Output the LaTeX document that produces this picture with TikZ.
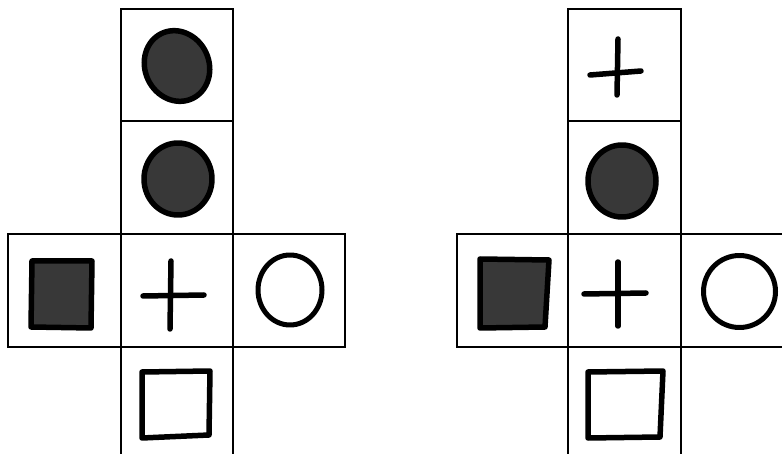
\documentclass[tikz,border=0pt]{standalone}
\begin{document}
\begin{tikzpicture}[x=1pt,y=-1pt,
  grid/.style={draw=black,line width=1.3pt},
  pen/.style={draw=black,line width=5.5pt,line cap=round,line join=round},
  blob/.style={pen,fill=black!78,line width=5.5pt}]
\useasboundingbox (0,0) rectangle (782,454);
% ---------- left net ----------
\draw[grid] (121,9) rectangle (233,121);
\draw[grid] (121,121) -- (121,234);
\draw[grid] (233,121) -- (233,234);
\draw[grid] (8,234) rectangle (345,347);
\draw[grid] (121,234) -- (121,454);
\draw[grid] (233,234) -- (233,454);
% symbols
\draw[blob,rotate around={25:(177,66)}] (177,66) ellipse (32 and 36);
\draw[blob] (178,179) ellipse (34 and 36);
\draw[blob] (32,261) -- (92,261) -- (91,328) -- (31,327) -- cycle;
\draw[pen] (143,296) -- (204,295);
\draw[pen] (171,261) -- (170,329);
\draw[pen,line width=5pt] (290,290) ellipse (32 and 35);
\draw[pen] (142,372) -- (210,371) -- (209,435) -- (142,438) -- cycle;
% ---------- right net ----------
\draw[grid] (568,9) rectangle (681,121);
\draw[grid] (568,121) -- (568,234);
\draw[grid] (681,121) -- (681,234);
\draw[grid] (782,234) -- (457,234) -- (457,347) -- (782,347);
\draw[grid] (568,234) -- (568,454);
\draw[grid] (681,234) -- (681,454);
% symbols
\draw[pen] (590,75) -- (641,71);
\draw[pen] (618,39) -- (617,95);
\draw[blob] (622,181) ellipse (34 and 36);
\draw[blob] (480,259) -- (549,260) -- (545,327) -- (480,328) -- cycle;
\draw[pen] (584,294) -- (646,293);
\draw[pen] (618,262) -- (618,326);
\draw[pen,line width=5pt] (739.5,291.5) ellipse (36 and 36);
\draw[pen] (588,372) -- (663,371) -- (660,437) -- (588,438) -- cycle;
\end{tikzpicture}
\end{document}
